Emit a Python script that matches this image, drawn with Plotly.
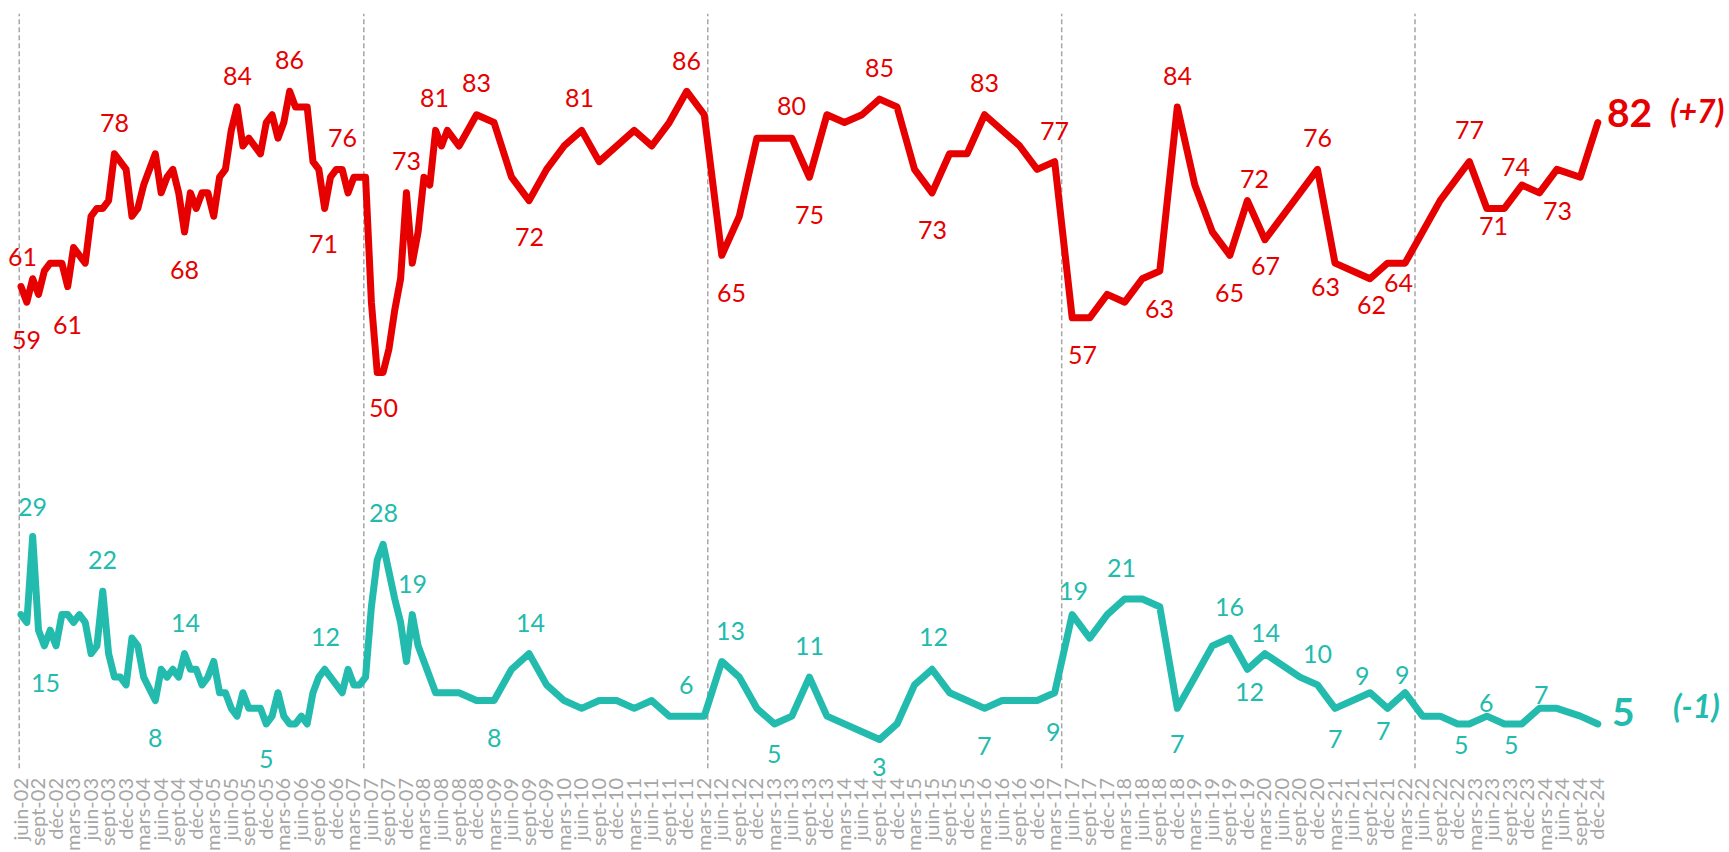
import plotly.graph_objects as go

# ---------------- data ----------------
periods = [
    "2002-06", "2002-07", "2002-08", "2002-09", "2002-10", "2002-11", "2002-12",
    "2003-01", "2003-02", "2003-03", "2003-04", "2003-05", "2003-06", "2003-07", "2003-08",
    "2003-09", "2003-10", "2003-11", "2003-12",
    "2004-01", "2004-02", "2004-03", "2004-05", "2004-06", "2004-07", "2004-08", "2004-09",
    "2004-10", "2004-11", "2004-12",
    "2005-01", "2005-02", "2005-03", "2005-04", "2005-05", "2005-06", "2005-07", "2005-08",
    "2005-09", "2005-11", "2005-12",
    "2006-01", "2006-02", "2006-03", "2006-04", "2006-05", "2006-06", "2006-07", "2006-08",
    "2006-09", "2006-10", "2006-11", "2006-12",
    "2007-01", "2007-02", "2007-03", "2007-04", "2007-05", "2007-06", "2007-07", "2007-08",
    "2007-09", "2007-10", "2007-11", "2007-12",
    "2008-01", "2008-02", "2008-03", "2008-04", "2008-05", "2008-06", "2008-07", "2008-09",
    "2008-12", "2009-03", "2009-06", "2009-09", "2009-12", "2010-03", "2010-06", "2010-09",
    "2010-12", "2011-03", "2011-06", "2011-09", "2011-12", "2012-03", "2012-06", "2012-09",
    "2012-12", "2013-03", "2013-06", "2013-09", "2013-12", "2014-03", "2014-06", "2014-09",
    "2014-12", "2015-03", "2015-06", "2015-09", "2015-12", "2016-03", "2016-06", "2016-09",
    "2016-12", "2017-03", "2017-06", "2017-09", "2017-12", "2018-03", "2018-06", "2018-09",
    "2018-12", "2019-03", "2019-06", "2019-09", "2019-12", "2020-03", "2020-09", "2020-12",
    "2021-03", "2021-09", "2021-12", "2022-03", "2022-06", "2022-09", "2022-12", "2023-02",
    "2023-05", "2023-08", "2023-11", "2024-02", "2024-05", "2024-09", "2024-12",
]

red_values = [
    61, 59, 62, 60, 63, 64, 64,
    64, 61, 66, 65, 64, 70, 71, 71,
    72, 78, 77, 76,
    70, 71, 74, 78, 73, 75, 76, 73,
    68, 73, 71,
    73, 73, 70, 75, 76, 81, 84, 79,
    80, 78, 82,
    83, 80, 82, 86, 84, 84, 84, 77,
    76, 71, 75, 76,
    76, 73, 75, 75, 75, 59, 50, 50,
    53, 58, 62, 73,
    64, 68, 75, 74, 81, 79, 81, 79,
    83, 82, 75, 72, 76, 79, 81, 77,
    79, 81, 79, 82, 86, 83, 65, 70,
    80, 80, 80, 75, 83, 82, 83, 85,
    84, 76, 73, 78, 78, 83, 81, 79,
    76, 77, 57, 57, 60, 59, 62, 63,
    84, 74, 68, 65, 72, 67, 73, 76,
    64, 62, 64, 64, 68, 72, 75, 77,
    71, 71, 74, 73, 76, 75, 82,
]

teal_values = [
    19, 18, 29, 17, 15, 17, 15,
    19, 19, 18, 19, 18, 14, 15, 22,
    14, 11, 11, 10,
    16, 15, 11, 8, 12, 11, 12, 11,
    14, 12, 12,
    10, 11, 13, 9, 9, 7, 6, 9,
    7, 7, 5,
    6, 9, 6, 5, 5, 6, 5, 9,
    11, 12, 11, 10,
    9, 12, 10, 10, 11, 20, 26, 28,
    24, 21, 18, 13,
    19, 15, 13, 11, 9, 9, 9, 9,
    8, 8, 12, 14, 10, 8, 7, 8,
    8, 7, 8, 6, 6, 6, 13, 11,
    7, 5, 6, 11, 6, 5, 4, 3,
    5, 10, 12, 9, 8, 7, 8, 8,
    8, 9, 19, 16, 19, 21, 21, 20,
    7, 11, 15, 16, 12, 14, 11, 10,
    7, 9, 7, 9, 6, 6, 5, 5,
    6, 5, 5, 7, 7, 6, 5,
]

# label texts shown next to selected points (period, text)
red_label_periods = ["2002-06", "2002-07", "2003-02", "2003-10", "2004-10", "2005-07", "2006-04",
                     "2006-10", "2007-01", "2007-08", "2007-12", "2008-05", "2008-12", "2009-09",
                     "2010-06", "2011-12", "2012-06", "2013-06", "2013-09", "2014-09", "2015-06",
                     "2016-03", "2017-03", "2017-06", "2018-09", "2018-12", "2019-09", "2019-12",
                     "2020-03", "2020-12", "2021-03", "2021-09", "2022-03", "2023-02", "2023-05",
                     "2023-11", "2024-02"]
red_label_texts = ["61", "59", "61", "78", "68", "84", "86", "71", "76", "50", "73", "81", "83", "72",
                   "81", "86", "65", "80", "75", "85", "73", "83", "77", "57", "63", "84", "65", "72",
                   "67", "76", "63", "62", "64", "77", "71", "74", "73"]

teal_label_periods = ["2002-08", "2002-10", "2003-08", "2004-05", "2004-10", "2005-12", "2006-10",
                      "2007-08", "2008-01", "2009-03", "2009-09", "2011-12", "2012-06", "2013-03",
                      "2013-09", "2014-09", "2015-06", "2016-03", "2017-03", "2017-06", "2018-03",
                      "2018-12", "2019-09", "2019-12", "2020-03", "2020-12", "2021-03", "2021-09",
                      "2021-12", "2022-03", "2022-12", "2023-05", "2023-08", "2024-02"]
teal_label_texts = ["29", "15", "22", "8", "14", "5", "12", "28", "19", "8", "14", "6", "13", "5",
                    "11", "3", "12", "7", "9", "19", "21", "7", "16", "12", "14", "10", "7", "9",
                    "7", "9", "5", "6", "5", "7"]

# election markers (months after June 2002)
election_marks = [-0.3, 58.7, 117.6, 178.2, 238.7]

month_names = {3: "mars", 6: "juin", 9: "sept", 12: "déc"}

# ---------------- styling / layout ----------------
RED = "#E60000"
TEAL = "#22BBAD"
GREY = "#A6A6A6"
FONT = "Lato"

# label offsets in px (dx right, dy down)
red_offsets = [(1, -31), (0, 37), (0, 37), (0, -32), (0, 37), (0, -32), (0, -32), (-1, 35), (0, -32),
               (0, 35), (0, -33), (-1, -33), (0, -33), (0, 35), (-2, -33), (0, -31), (10, 37),
               (0, -33), (0, 37), (0, -32), (0, 36), (0, -33), (0, -32), (10, 36), (0, 37),
               (0, -32), (0, 37), (7, -23), (1, 25), (0, -32), (-10, 23), (1, 25), (-7, 19),
               (0, -33), (7, 17), (-6, -19), (18, 17)]
teal_offsets = [(0, -31), (1, 36), (0, -32), (0, 36), (1, -32), (0, 34), (1, -33), (0, -32), (0, -32),
                (0, 36), (1, -32), (0, -32), (9, -31), (0, 29), (0, -32), (0, 26), (1, -33), (0, 37),
                (-1, 38), (1, -25), (-3, -32), (0, 35), (0, -32), (2, 22), (1, -22), (0, -32),
                (0, 30), (-8, -18), (-4, 22), (-3, -19), (4, 20), (0, -14), (7, 20), (2, -14)]


def month_offset(p):
    y, m = p.split("-")
    return (int(y) - 2002) * 12 + int(m) - 6


x = [month_offset(p) for p in periods]

fig = go.Figure()
fig.add_trace(go.Scatter(x=x, y=teal_values, mode="lines",
                         line=dict(color=TEAL, width=7), hoverinfo="skip"))
fig.add_trace(go.Scatter(x=x, y=red_values, mode="lines",
                         line=dict(color=RED, width=7), hoverinfo="skip"))

annotations = []


def add_labels(label_periods, texts, offsets, series, color):
    for p, t, (dx, dy) in zip(label_periods, texts, offsets):
        i = periods.index(p)
        annotations.append(dict(x=x[i], y=series[i], text=t, showarrow=False,
                                xanchor="center", yanchor="middle",
                                xshift=dx, yshift=-dy,
                                font=dict(family=FONT, size=25, color=color)))


add_labels(red_label_periods, red_label_texts, red_offsets, red_values, RED)
add_labels(teal_label_periods, teal_label_texts, teal_offsets, teal_values, TEAL)

# end values and change
for series, color, main_off, delta_off in [
    (red_values, RED, (32, -11), (99, -12)),
    (teal_values, TEAL, (26, -13), (99, -18)),
]:
    last, prev = series[-1], series[-2]
    annotations.append(dict(x=x[-1], y=last, text=f"<b>{last}</b>", showarrow=False,
                            xanchor="center", yanchor="middle",
                            xshift=main_off[0], yshift=-main_off[1],
                            font=dict(family=FONT, size=39, color=color)))
    annotations.append(dict(x=x[-1], y=last, text=f"<b><i>({last - prev:+d})</i></b>",
                            showarrow=False, xanchor="center", yanchor="middle",
                            xshift=delta_off[0], yshift=-delta_off[1],
                            font=dict(family=FONT, size=32, color=color)))

shapes = [dict(type="line", xref="x", yref="paper", x0=e, x1=e, y0=-0.003, y1=0.982,
               line=dict(color=GREY, width=1.5, dash="5px,3px"), layer="below")
          for e in election_marks]

tickvals = list(range(0, month_offset("2024-12") + 1, 3))
ticktext = []
for t in tickvals:
    mm = (t + 5) % 12 + 1
    yy = 2002 + (t + 5) // 12
    ticktext.append(f"{month_names[mm]}-{yy % 100:02d}")

px_per_month = 5.84
W, H = 1729, 852
x0_px = 21
fig.update_layout(
    width=W, height=H,
    margin=dict(l=0, r=0, t=0, b=86, pad=0),
    plot_bgcolor="white", paper_bgcolor="white",
    showlegend=False,
    annotations=annotations,
    shapes=shapes,
    xaxis=dict(range=[-x0_px / px_per_month, (W - x0_px) / px_per_month],
               tickmode="array", tickvals=tickvals, ticktext=ticktext,
               tickangle=-90, showgrid=False, zeroline=False, showline=False,
               ticks="", ticklabelstandoff=7, automargin=False,
               tickfont=dict(family=FONT, size=20, color=GREY)),
    yaxis=dict(range=[-0.384, 97.69], visible=False, showgrid=False, zeroline=False),
)

post = """
document.body.style.margin='0';
document.body.style.overflow='hidden';
var gd=document.getElementById('{plot_id}');
gd.querySelectorAll('path.js-line').forEach(function(p){p.style.strokeLinejoin='round';p.style.strokeLinecap='round';});
"""

fig.write_html("out.html", config={"displayModeBar": False}, post_script=post)
